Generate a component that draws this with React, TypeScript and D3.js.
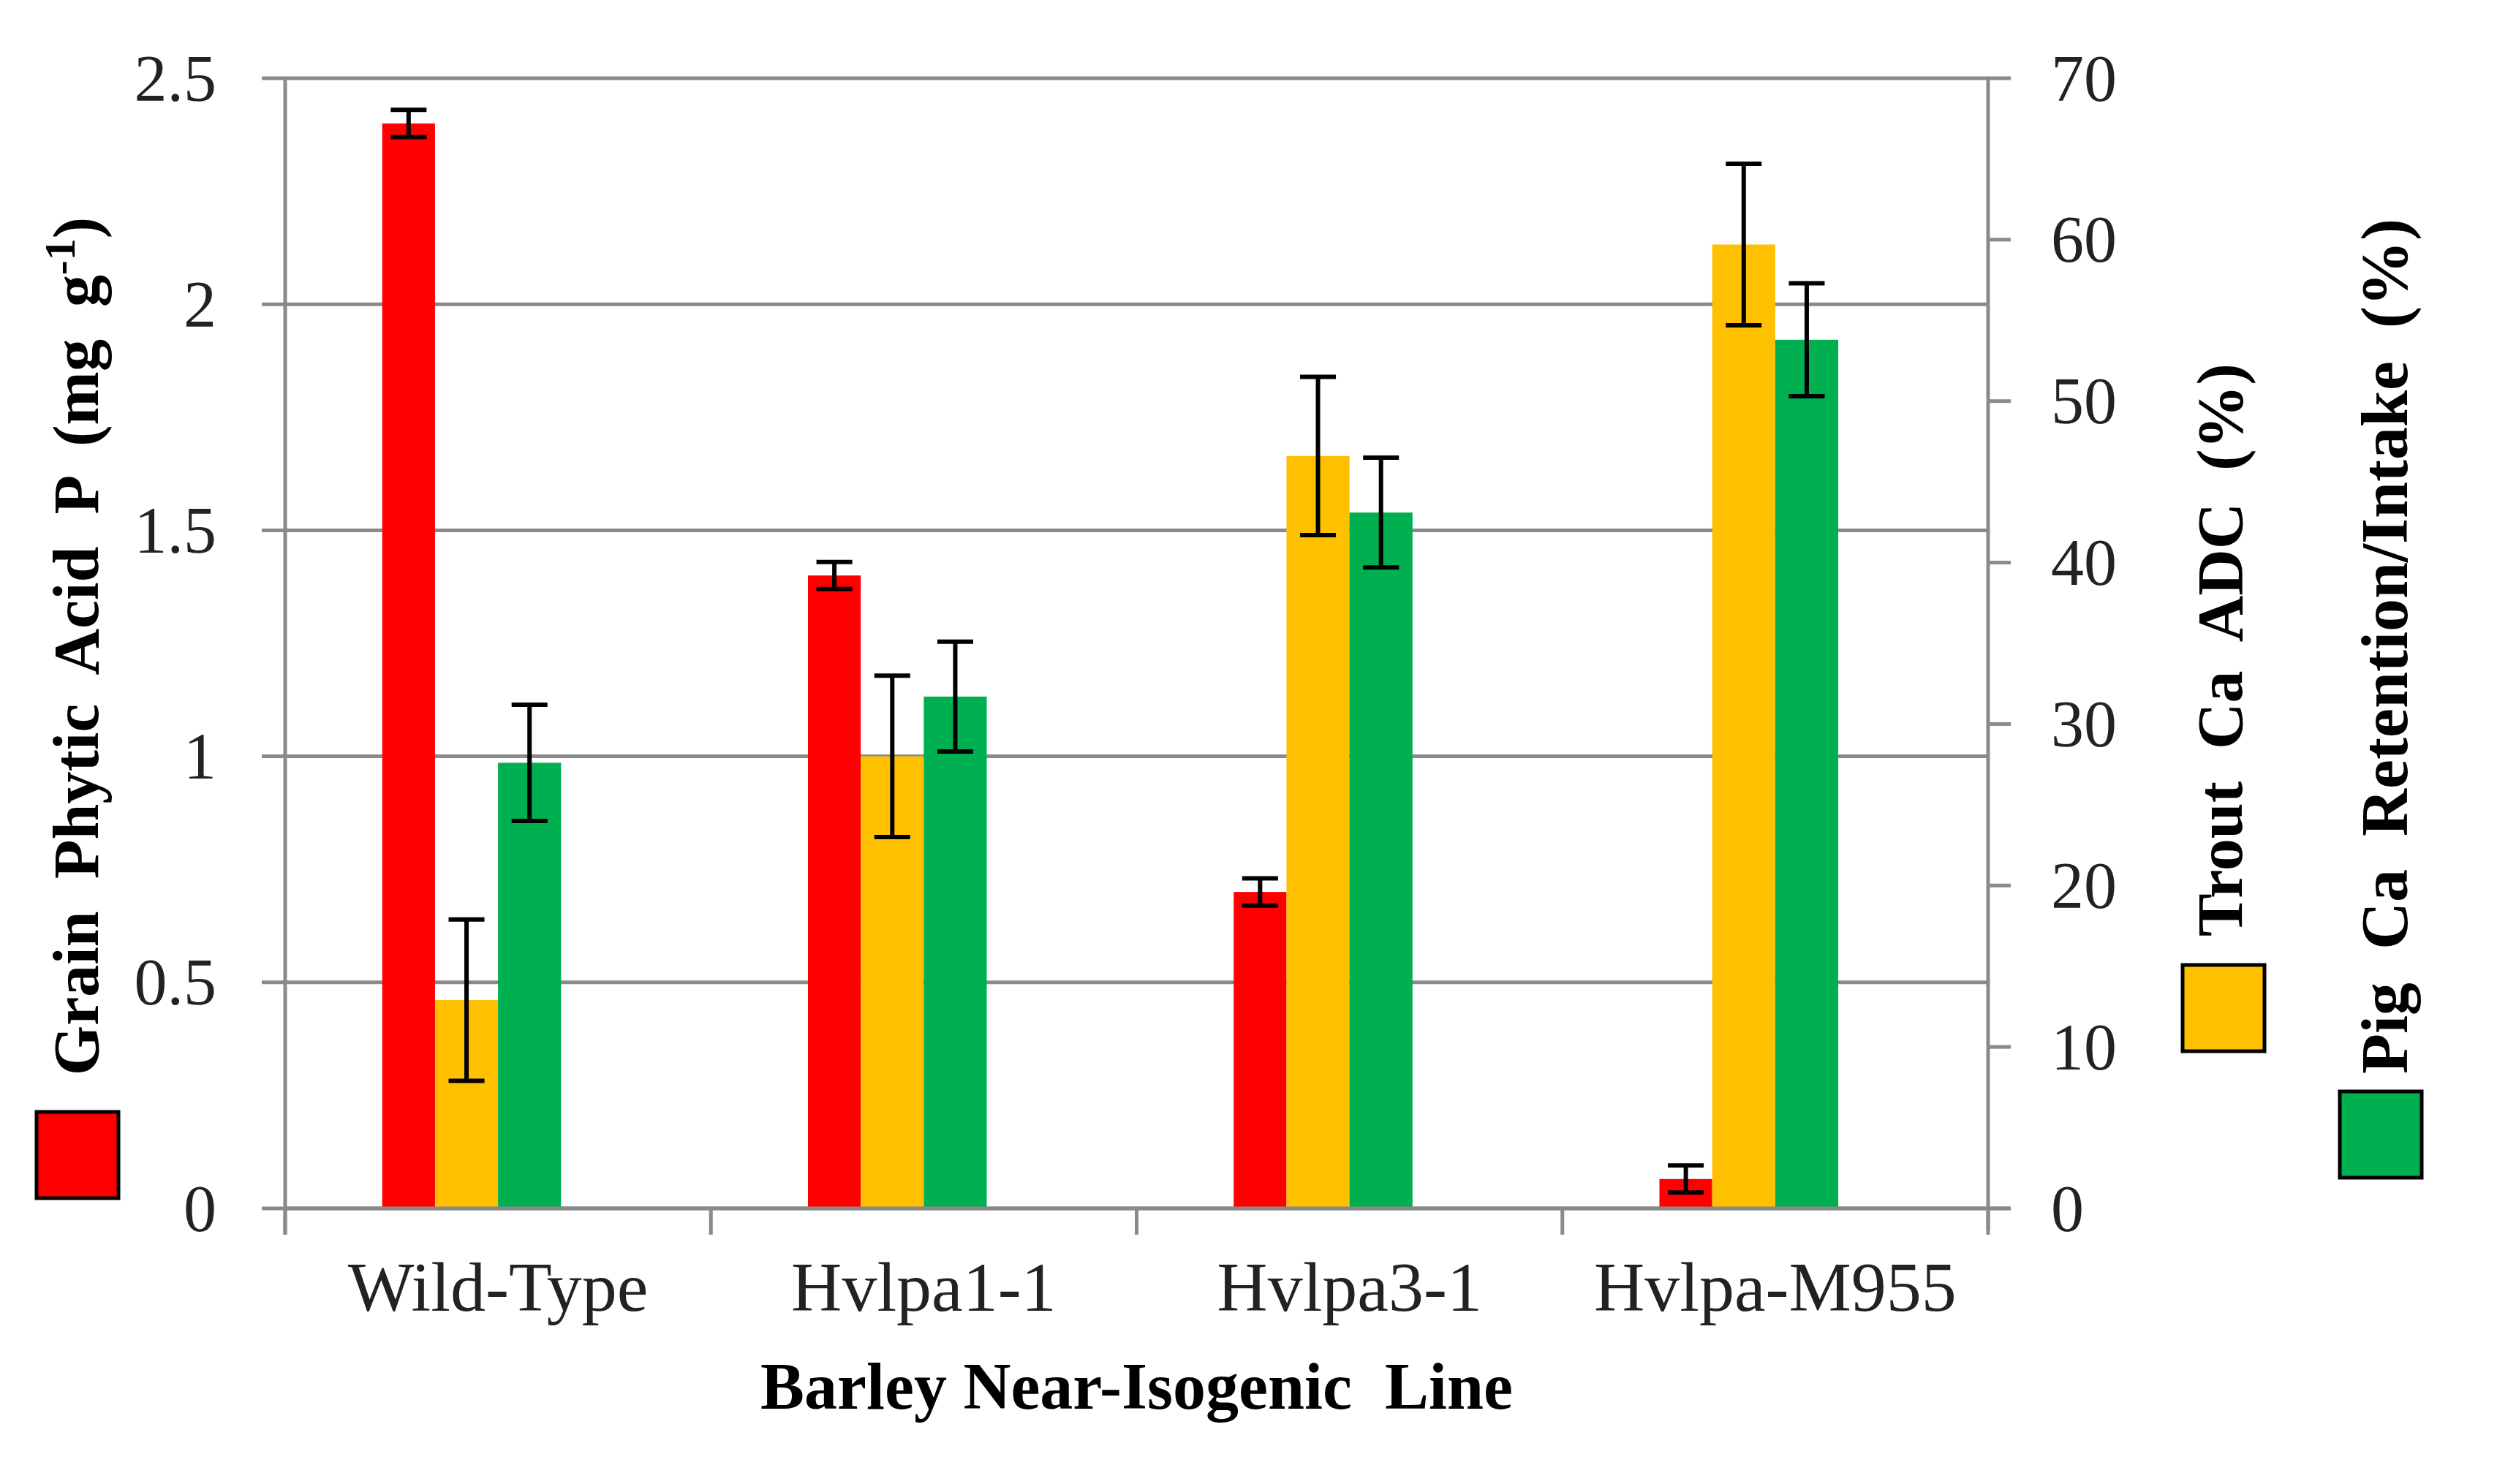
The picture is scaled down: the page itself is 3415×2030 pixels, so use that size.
import React from 'react';
import * as d3 from 'd3';

// barley lines on the x axis
const categories = ['Wild-Type', 'Hvlpa1-1', 'Hvlpa3-1', 'Hvlpa-M955'];

// left axis: grain phytic acid P (mg/g)
const phyticAcid = [2.4, 1.4, 0.7, 0.065];
const phyticErr = [0.03, 0.03, 0.03, 0.03];

// right axis: trout Ca ADC (%) and pig Ca retention/intake (%)
const troutADC = [12.9, 28.0, 46.6, 59.7];
const troutErr = [5.0, 5.0, 4.9, 5.0];
const pigRetention = [27.6, 31.7, 43.1, 53.8];
const pigErr = [3.6, 3.4, 3.4, 3.5];

const leftTicks = [0, 0.5, 1, 1.5, 2, 2.5];
const rightTicks = [0, 10, 20, 30, 40, 50, 60, 70];

const W = 3415;
const H = 2030;
const plot = { left: 390, right: 2719, top: 107, bottom: 1653 };

const RED = '#ff0000';
const ORANGE = '#ffc000';
const GREEN = '#00b050';
const GRID = '#8a8a8a';
const SERIF = '"Liberation Serif", "DejaVu Serif", serif';

export default function App() {
  const x = d3.scaleBand<string>().domain(categories).range([plot.left, plot.right]).padding(0);
  const yL = d3.scaleLinear().domain([0, 2.5]).range([plot.bottom, plot.top]);
  const yR = d3.scaleLinear().domain([0, 70]).range([plot.bottom, plot.top]);
  const bw = x.bandwidth();
  const wide = bw * 0.148;
  const narrow = bw * 0.124;
  const cap = 49;

  const center = (c: string) => (x(c) as number) + bw / 2;

  const errBar = (cx: number, y0: number, y1: number, key: string) => (
    <g key={key} stroke="#000" strokeWidth={6}>
      <line x1={cx} x2={cx} y1={y0} y2={y1} />
      <line x1={cx - cap / 2} x2={cx + cap / 2} y1={y0} y2={y0} />
      <line x1={cx - cap / 2} x2={cx + cap / 2} y1={y1} y2={y1} />
    </g>
  );

  const boundaries = categories.map(c => x(c) as number).concat([plot.right]);

  return (
    <svg width={W} height={H} style={{ position: 'absolute', left: 0, top: 0, background: '#fff' }}>
      <rect width={W} height={H} fill="#fff" />

      {/* gridlines on left scale */}
      {leftTicks.map(t => (
        <line key={'g' + t} x1={plot.left - 32} x2={plot.right} y1={yL(t)} y2={yL(t)} stroke={GRID} strokeWidth={5} />
      ))}

      {/* bars */}
      {categories.map((c, i) => {
        const cx = center(c);
        return (
          <g key={c}>
            <rect x={cx - wide - narrow} width={narrow} y={yL(phyticAcid[i])} height={plot.bottom - yL(phyticAcid[i])} fill={RED} />
            <rect x={cx - wide} width={wide} y={yR(troutADC[i])} height={plot.bottom - yR(troutADC[i])} fill={ORANGE} />
            <rect x={cx} width={wide} y={yR(pigRetention[i])} height={plot.bottom - yR(pigRetention[i])} fill={GREEN} />
          </g>
        );
      })}

      {/* axes */}
      <line x1={plot.left} x2={plot.left} y1={plot.top} y2={plot.bottom + 36} stroke={GRID} strokeWidth={5} />
      <line x1={plot.right} x2={plot.right} y1={plot.top} y2={plot.bottom + 30} stroke={GRID} strokeWidth={5} />
      <line x1={plot.left} x2={plot.right + 31} y1={plot.bottom} y2={plot.bottom} stroke={GRID} strokeWidth={5} />
      {boundaries.map((b, i) => (
        <line key={'b' + i} x1={b} x2={b} y1={plot.bottom} y2={plot.bottom + 36} stroke={GRID} strokeWidth={5} />
      ))}
      {rightTicks.map(t => (
        <line key={'rt' + t} x1={plot.right} x2={plot.right + 31} y1={yR(t)} y2={yR(t)} stroke={GRID} strokeWidth={5} />
      ))}

      {/* error bars */}
      {categories.map((c, i) => {
        const cx = center(c);
        return (
          <g key={'e' + c}>
            {errBar(cx - wide - narrow / 2, yL(phyticAcid[i] + phyticErr[i]), yL(phyticAcid[i] - phyticErr[i]), 'r')}
            {errBar(cx - wide / 2, yR(troutADC[i] + troutErr[i]), yR(troutADC[i] - troutErr[i]), 'o')}
            {errBar(cx + wide / 2, yR(pigRetention[i] + pigErr[i]), yR(pigRetention[i] - pigErr[i]), 'g')}
          </g>
        );
      })}

      {/* tick labels */}
      <g fontFamily={SERIF} fontSize={90} fill="#222">
        {leftTicks.map(t => (
          <text key={'lt' + t} x={296} y={yL(t)} textAnchor="end" dominantBaseline="central">{t}</text>
        ))}
        {rightTicks.map(t => (
          <text key={'rl' + t} x={2805} y={yR(t)} textAnchor="start" dominantBaseline="central">{t}</text>
        ))}
        {categories.map(c => (
          <text key={'c' + c} x={center(c)} y={1793} textAnchor="middle" fontSize={96}>{c}</text>
        ))}
      </g>

      {/* x title */}
      <text x={(plot.left + plot.right) / 2} y={1927} textAnchor="middle" fontFamily={SERIF} fontWeight="bold" fontSize={90}
        style={{ whiteSpace: 'pre' }}>Barley Near-Isogenic  Line</text>

      {/* left title + legend */}
      <text transform="translate(134,884) rotate(-90)" textAnchor="middle" fontFamily={SERIF} fontWeight="bold" fontSize={88}
        style={{ whiteSpace: 'pre' }}>
        Grain  Phytic  Acid  P  (mg  g<tspan fontSize={60} dy={-32}>-1</tspan><tspan dy={32}>)</tspan>
      </text>
      <rect x={50} y={1521} width={112} height={118} fill={RED} stroke="#000" strokeWidth={5} />

      {/* right titles + legends */}
      <text transform="translate(3066,889) rotate(-90)" textAnchor="middle" fontFamily={SERIF} fontWeight="bold" fontSize={88}
        style={{ whiteSpace: 'pre' }}>Trout  Ca  ADC  (%)</text>
      <rect x={2985} y={1320} width={112} height={118} fill={ORANGE} stroke="#000" strokeWidth={5} />

      <text transform="translate(3292,884) rotate(-90)" textAnchor="middle" fontFamily={SERIF} fontWeight="bold" fontSize={90}
        style={{ whiteSpace: 'pre' }}>Pig  Ca  Retention/Intake  (%)</text>
      <rect x={3200} y={1493} width={112} height={118} fill={GREEN} stroke="#000" strokeWidth={5} />
    </svg>
  );
}
